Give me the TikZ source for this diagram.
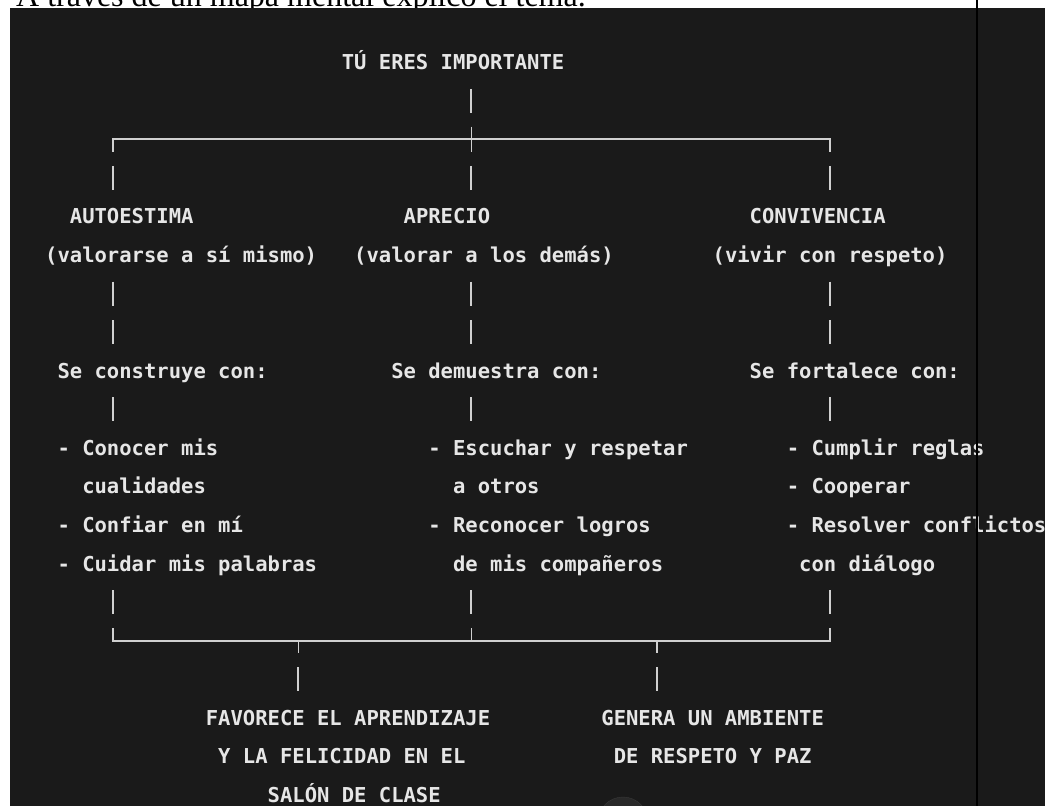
\documentclass[tikz,border=0pt]{standalone}
\usepackage{fontspec}
\setmainfont{Liberation Serif}
\setmonofont{DejaVu Sans Mono}
\usetikzlibrary{positioning}

\newcommand{\mapfont}{\ttfamily\bfseries\fontsize{20.53pt}{38.58pt}\selectfont}
\definecolor{mapbg}{HTML}{1A1A1A}
\definecolor{mapink}{HTML}{E6E6E6}
\definecolor{mapline}{HTML}{D0D0D0}

\begin{document}
\begin{tikzpicture}[x=12.36pt,y=-38.58pt,
  txt/.style={anchor=west,inner sep=0pt,minimum height=38.58pt,
    text height=14.97pt,text depth=0pt,text=mapink,font=\mapfont},
  junc/.style={inner sep=0pt,minimum width=0pt,minimum height=38.58pt},
  rule/.style={draw=mapline,line width=1.6pt},
  bars/.style={draw=mapline,line width=2pt,
    dash pattern=on 24pt off 14.58pt,dash phase=31.29pt}]
  \useasboundingbox (-45pt,62pt) rectangle (1000pt,-744pt);
  \fill[white] (-45pt,62pt) rectangle (1000pt,-744pt);
  \node[anchor=base west,inner sep=0pt,font=\fontsize{32pt}{38pt}\selectfont]
    (intro) at (-29pt,56pt) {A través de un mapa mental explicó el tema.};
  \fill[mapbg] (-35pt,54pt) rectangle (1000pt,-744pt);
  \draw[draw=black!78,fill=black!84] (578pt,-760pt) circle (25pt);

  % one text line per node, placed on the character grid
  \foreach \n/\c/\r/\s in {t/24/0/{TÚ ERES IMPORTANTE},
      a1/2/4/{AUTOESTIMA}, a2/0/5/{(valorarse a sí mismo)},
      a3/1/8/{Se construye con:}, a4/1/10/{- Conocer mis},
      a5/3/11/{cualidades}, a6/1/12/{- Confiar en mí},
      a7/1/13/{- Cuidar mis palabras},
      b1/29/4/{APRECIO}, b2/25/5/{(valorar a los demás)},
      b3/28/8/{Se demuestra con:}, b4/31/10/{- Escuchar y respetar},
      b5/33/11/{a otros}, b6/31/12/{- Reconocer logros},
      b7/33/13/{de mis compañeros},
      c1/57/4/{CONVIVENCIA}, c2/54/5/{(vivir con respeto)},
      c3/57/8/{Se fortalece con:}, c4/60/10/{- Cumplir reglas},
      c5/60/11/{- Cooperar}, c6/60/12/{- Resolver conflictos},
      c7/61/13/{con diálogo},
      f1/13/17/{FAVORECE EL APRENDIZAJE}, f2/14/18/{Y LA FELICIDAD EN EL},
      f3/18/19/{SALÓN DE CLASE},
      g1/45/17/{GENERA UN AMBIENTE}, g2/46/18/{DE RESPETO Y PAZ}}
    \node[txt] (\n) at (\c,\r) {\s};

  \node[junc] (tl) at (5.5,2) {};
  \node[junc] (tm) at (34.5,2) {};
  \node[junc] (tr) at (63.5,2) {};
  \node[junc] (bl) at (5.5,15) {};
  \node[junc] (bm) at (34.5,15) {};
  \node[junc] (br) at (63.5,15) {};
  \node[junc] (j1) at (20.5,15) {};
  \node[junc] (j2) at (49.5,15) {};

  \draw[rule] ([yshift=-12.5pt]tl.center) -- (tl.center) -- (tr.center)
    -- ([yshift=-12.5pt]tr.center);
  \draw[rule] ([yshift=12.5pt]tm.center) -- ([yshift=-12.5pt]tm.center);
  \draw[rule] ([yshift=12.5pt]bl.center) -- (bl.center) -- (br.center)
    -- ([yshift=12.5pt]br.center);
  \draw[rule] ([yshift=12.5pt]bm.center) -- (bm.center);
  \draw[rule] (j1.center) -- ([yshift=-12.5pt]j1.center);
  \draw[rule] (j2.center) -- ([yshift=-12.5pt]j2.center);

  \draw[bars] (t.south -| tm) -- (tm.north);
  \draw[bars] (tl.south) -- (a1.north -| tl);
  \draw[bars] (a2.south -| tl) -- (a3.north -| tl);
  \draw[bars] (a3.south -| tl) -- (a4.north -| tl);
  \draw[bars] (a7.south -| tl) -- (bl.north);
  \draw[bars] (tm.south) -- (b1.north -| tm);
  \draw[bars] (b2.south -| tm) -- (b3.north -| tm);
  \draw[bars] (b3.south -| tm) -- (b4.north -| tm);
  \draw[bars] (b7.south -| tm) -- (bm.north);
  \draw[bars] (tr.south) -- (c1.north -| tr);
  \draw[bars] (c2.south -| tr) -- (c3.north -| tr);
  \draw[bars] (c3.south -| tr) -- (c4.north -| tr);
  \draw[bars] (c7.south -| tr) -- (br.north);
  \draw[bars] (j1.south) -- (f1.north -| j1);
  \draw[bars] (j2.south) -- (g1.north -| j2);

  \draw[black,line width=2pt] (931.5pt,62pt) -- (931.5pt,-744pt);
\end{tikzpicture}
\end{document}
